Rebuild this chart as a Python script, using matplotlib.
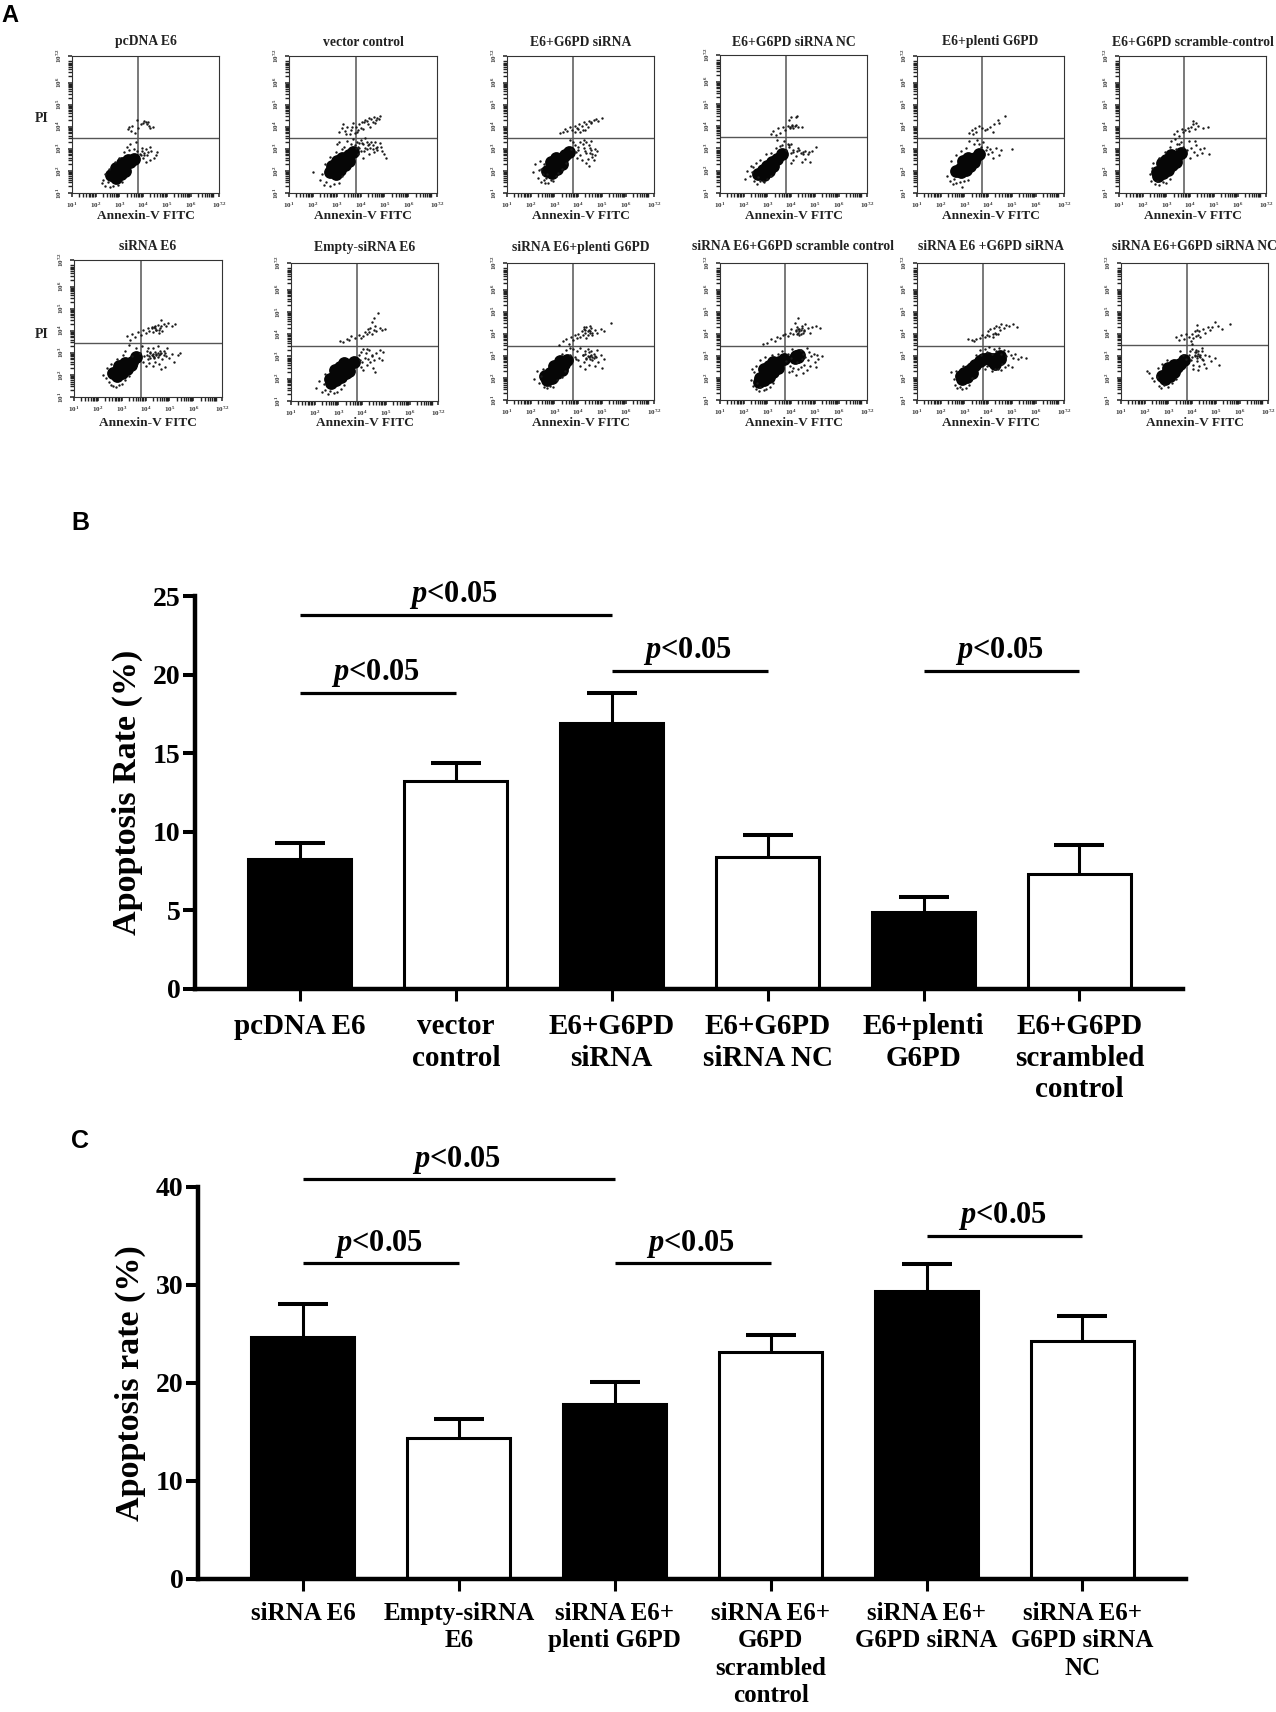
import numpy as np
import matplotlib
matplotlib.use("Agg")
import matplotlib.pyplot as plt

W, H = 1276, 1712
SERIF = "Liberation Serif"
SANS = "Liberation Sans"

plt.rcParams["font.family"] = [SERIF, "DejaVu Serif"]
plt.rcParams["font.weight"] = "bold"
plt.rcParams["axes.labelweight"] = "bold"
plt.rcParams["mathtext.fontset"] = "custom"
plt.rcParams["mathtext.rm"] = "Liberation Serif:bold"
plt.rcParams["mathtext.it"] = "Liberation Serif:italic:bold"
plt.rcParams["mathtext.bf"] = "Liberation Serif:bold"

# bar charts
labels_b = ["pcDNA E6", "vector\ncontrol", "E6+G6PD\nsiRNA", "E6+G6PD\nsiRNA NC", "E6+plenti\nG6PD",
            "E6+G6PD\nscrambled\ncontrol"]
means_b = [8.3, 13.2, 16.9, 8.4, 4.9, 7.3]
tops_b = [9.3, 14.4, 18.85, 9.8, 5.85, 9.15]
sig_b_start = [0, 0, 2, 4]
sig_b_end = [2, 1, 3, 5]
sig_b_y = [23.8, 18.85, 20.25, 20.25]

labels_c = ["siRNA E6", "Empty-siRNA\nE6", "siRNA E6+\nplenti G6PD", "siRNA E6+\nG6PD\nscrambled\ncontrol",
            "siRNA E6+\nG6PD siRNA", "siRNA E6+\nG6PD siRNA\nNC"]
means_c = [24.7, 14.4, 17.9, 23.2, 29.4, 24.3]
tops_c = [28.1, 16.3, 20.1, 24.9, 32.1, 26.8]
sig_c_start = [0, 0, 2, 4]
sig_c_end = [2, 1, 3, 5]
sig_c_y = [40.8, 32.2, 32.2, 35.0]

# flow panels, all in log10 units: core = the solid black mass, dots = the single events
p1_core_x = [2.65, 2.85, 3.05, 3.25, 3.45, 3.6, 2.85, 3.05, 3.25, 2.85, 3.1, 3.35]
p1_core_y = [1.8, 1.95, 2.1, 2.25, 2.4, 2.55, 1.7, 1.85, 2.0, 2.15, 2.35, 2.5]
p1_dots_x = [3.35, 3.4, 3.5, 3.55, 3.65, 3.75, 3.8, 3.9, 4.0, 4.1, 4.15, 4.2, 4.25, 4.3, 4.4, 4.05,
             3.3, 3.45, 3.6, 3.7, 3.75, 3.9, 3.95, 4.0, 4.05, 4.1, 4.15, 4.2, 4.3, 4.35, 4.45, 4.55, 4.6, 4.3, 4.1,
             2.25, 2.3, 2.4, 2.5, 2.6, 2.75, 2.95, 3.1, 2.4, 2.55, 2.8, 3.0, 3.2, 3.4, 3.85, 4.05, 3.95]
p1_dots_y = [3.9, 4.0, 3.8, 4.05, 3.7, 4.3, 3.95, 4.1, 4.15, 4.2, 4.1, 4.2, 4.05, 3.95, 4.0, 4.25,
             3.1, 3.2, 3.0, 3.3, 2.9, 2.7, 3.05, 2.6, 2.8, 3.0, 2.7, 2.85, 2.5, 2.9, 2.6, 2.7, 2.85, 3.1, 2.4,
             1.45, 1.6, 1.3, 1.5, 1.25, 1.3, 1.35, 1.5, 1.85, 2.1, 2.4, 2.6, 2.85, 2.95, 2.75, 2.7, 2.9]

p2_core_x = [2.7, 2.9, 3.1, 3.3, 3.5, 3.7, 2.95, 3.15, 3.35, 3.5, 2.8, 3.0, 3.2]
p2_core_y = [1.95, 2.15, 2.35, 2.5, 2.7, 2.85, 1.85, 2.05, 2.25, 2.45, 2.2, 2.45, 2.6]
p2_dots_x = [3.1, 3.2, 3.25, 3.35, 3.45, 3.55, 3.6, 3.7, 3.8, 3.85, 3.95, 4.05, 4.1, 4.2, 4.3, 4.35, 4.5, 4.55, 4.65,
             4.75, 4.8, 4.4, 3.0, 3.1, 3.3, 3.45, 3.6, 3.7, 3.85, 3.95, 4.0, 4.1, 4.15, 4.2, 4.3, 4.35, 4.45, 4.5, 4.6,
             4.7, 4.8, 4.9, 5.0, 5.05, 4.55, 4.1, 3.9, 2.0, 2.3, 2.4, 2.45, 2.55, 2.7, 2.9, 3.1, 3.2, 2.5, 2.7, 2.95, 3.2,
             3.8, 4.0, 4.25, 4.4, 4.65, 3.75, 3.95, 4.25,
             3.4, 3.65, 3.75, 3.9, 4.0, 4.15, 4.25, 4.45, 4.6, 4.7, 3.9, 4.05, 4.2, 4.35, 4.5, 4.7, 4.85]
p2_dots_y = [3.75, 3.95, 4.1, 3.8, 4.0, 3.65, 3.85, 4.15, 4.0, 3.75, 4.1, 4.2, 3.9, 4.3, 4.1, 4.4, 4.2, 4.45, 4.3,
             4.35, 4.5, 4.0, 3.2, 3.3, 3.1, 3.35, 3.2, 3.45, 3.3, 3.05, 3.4, 3.2, 2.9, 3.5, 3.15, 2.75, 3.3, 3.0, 3.3,
             3.1, 3.25, 2.9, 2.75, 2.6, 2.85, 2.6, 2.75, 1.95, 1.6, 1.85, 1.35, 1.5, 1.3, 1.4, 1.45, 1.75, 2.3, 2.65, 2.85, 3.0,
             3.05, 2.9, 3.0, 3.05, 3.05, 3.15, 3.25, 3.3,
             3.65, 4.0, 3.7, 3.85, 3.95, 4.2, 4.25, 4.35, 4.15, 4.4, 3.1, 3.25, 3.05, 3.2, 3.15, 2.95, 3.1]

p3_core_x = [2.7, 2.85, 3.0, 3.15, 3.3, 3.45, 3.6, 2.9, 3.1, 3.3, 2.85, 3.05]
p3_core_y = [2.0, 2.15, 2.3, 2.45, 2.55, 2.7, 2.85, 1.9, 2.1, 2.3, 2.4, 2.6]
p3_dots_x = [3.25, 3.35, 3.45, 3.55, 3.65, 3.75, 3.85, 3.95, 4.05, 4.15, 4.25, 4.35, 4.45, 4.55, 4.65, 4.75, 4.85, 5.0,
             4.3, 4.1, 3.7, 3.8, 3.9, 4.0, 4.1, 4.2, 4.3, 4.4, 4.5, 4.6, 4.7, 4.8, 4.55, 4.35, 4.15, 4.45, 4.25, 3.95, 4.65,
             2.1, 2.2, 2.3, 2.35, 2.45, 2.5, 2.6, 2.65, 2.75, 2.85, 2.95, 3.05, 2.4, 2.55, 3.15, 3.3, 3.5, 3.65, 4.5, 4.6, 4.35, 4.7,
             3.85, 4.0, 4.2, 4.4, 4.55, 3.85, 4.0, 4.1, 4.25, 4.35, 4.45, 4.55, 2.55, 2.7, 2.45]
p3_dots_y = [3.7, 3.75, 3.9, 3.8, 4.0, 3.85, 4.05, 3.95, 4.1, 4.05, 4.2, 4.1, 4.25, 4.15, 4.3, 4.35, 4.25, 4.4,
             3.85, 3.75, 3.0, 3.3, 2.85, 3.1, 2.7, 3.2, 2.9, 2.55, 3.05, 2.75, 3.0, 2.9, 3.35, 2.35, 2.5, 2.2, 3.4, 2.6, 2.5,
             1.95, 2.3, 1.7, 2.05, 1.5, 1.85, 1.45, 1.7, 1.45, 1.6, 1.55, 1.75, 2.45, 2.3, 1.9, 2.1, 2.35, 3.4, 2.8, 2.65, 3.3, 2.7,
             3.75, 3.9, 3.85, 4.0, 4.2, 3.15, 2.95, 3.3, 3.05, 2.8, 3.15, 2.95, 1.6, 1.85, 2.1]

p4_core_x = [2.6, 2.8, 3.0, 3.2, 3.4, 3.6, 2.85, 3.05, 3.25]
p4_core_y = [1.85, 2.05, 2.2, 2.4, 2.55, 2.75, 1.8, 2.0, 2.2]
p4_dots_x = [3.15, 3.25, 3.35, 3.45, 3.55, 3.65, 3.75, 3.85, 3.95, 4.0, 4.05, 4.1, 4.2, 4.3, 4.45, 3.9, 4.2, 4.25,
             3.4, 3.55, 3.7, 3.8, 3.9, 4.0, 4.1, 4.2, 4.3, 4.4, 4.5, 4.6, 4.7, 4.8, 4.9, 5.05, 4.45, 4.1, 4.0, 3.85,
             2.05, 2.15, 2.25, 2.35, 2.45, 2.55, 2.7, 2.85, 3.0, 3.15, 2.3, 2.5, 2.7, 2.95, 3.15, 3.35, 3.6,
             3.9, 4.0, 4.1, 4.25, 4.35, 4.5, 4.6, 4.75, 3.95, 4.05, 4.15, 2.4, 2.6, 2.8]
p4_dots_y = [3.65, 3.8, 3.6, 3.9, 3.7, 3.95, 3.85, 4.0, 3.95, 4.4, 4.0, 3.9, 4.05, 3.95, 3.95, 4.3, 4.4, 4.45,
             3.4, 3.1, 3.35, 2.95, 3.15, 2.8, 2.95, 2.65, 3.0, 2.8, 2.85, 2.55, 2.75, 2.4, 2.9, 3.05, 2.4, 2.5, 2.35, 3.2,
             1.65, 2.0, 1.75, 1.95, 1.55, 1.4, 1.55, 1.5, 1.65, 1.75, 2.2, 2.35, 2.5, 2.75, 2.8, 3.0, 3.15,
             3.05, 3.2, 2.85, 2.9, 2.95, 2.75, 2.9, 2.85, 3.9, 4.05, 4.0, 2.15, 1.7, 1.55]

p5_core_x = [2.65, 2.85, 3.05, 3.25, 3.45, 3.6, 2.85, 3.05, 3.25, 3.4, 2.95, 3.15]
p5_core_y = [2.0, 2.15, 2.3, 2.45, 2.6, 2.75, 1.95, 2.05, 2.2, 2.4, 2.45, 2.6]
p5_dots_x = [3.2, 3.3, 3.35, 3.45, 3.6, 3.75, 3.85, 3.95, 4.1, 4.25, 4.4, 4.45, 4.7, 3.5, 4.2,
             3.2, 3.4, 3.55, 3.7, 3.8, 3.9, 4.0, 4.1, 4.2, 4.35, 4.45, 4.55, 5.0, 3.95, 4.15, 3.6,
             2.25, 2.4, 2.5, 2.55, 2.65, 2.8, 2.9, 3.0, 3.15, 2.45, 2.65, 2.85, 3.05]
p5_dots_y = [3.7, 3.85, 3.65, 3.95, 4.05, 3.95, 3.85, 3.9, 4.0, 4.1, 4.3, 4.15, 4.5, 3.75, 3.75,
             3.35, 3.2, 3.4, 3.1, 3.3, 2.95, 2.75, 3.0, 2.6, 3.05, 2.7, 2.95, 3.0, 3.1, 2.85, 3.2,
             1.75, 1.55, 1.4, 1.65, 1.45, 1.5, 1.25, 1.55, 1.6, 2.45, 2.7, 2.9, 3.05]

p6_core_x = [2.6, 2.8, 3.0, 3.2, 3.4, 3.6, 2.65, 2.85, 3.05, 3.25, 2.8, 3.0, 3.2, 3.4]
p6_core_y = [1.95, 2.1, 2.25, 2.45, 2.6, 2.8, 1.75, 1.9, 2.05, 2.25, 2.35, 2.5, 2.7, 2.4]
p6_dots_x = [3.3, 3.45, 3.55, 3.65, 3.8, 3.9, 3.95, 4.05, 4.1, 4.2, 4.25, 4.35, 4.55, 4.75, 4.1, 3.7,
             3.2, 3.35, 3.45, 3.6, 3.7, 3.85, 3.95, 4.05, 4.15, 4.25, 4.3, 4.4, 4.5, 4.6, 4.8, 4.2, 4.0,
             2.3, 2.35, 2.4, 2.5, 2.6, 2.7, 2.85, 3.0, 3.15, 2.45, 2.7, 2.95, 3.15, 3.4, 3.55]
p6_dots_y = [3.65, 3.8, 3.6, 3.9, 3.85, 3.95, 3.8, 4.0, 4.1, 3.9, 4.15, 4.05, 3.95, 4.0, 4.25, 3.75,
             3.35, 3.45, 3.2, 3.3, 3.1, 2.95, 3.35, 3.05, 2.85, 3.15, 2.7, 3.0, 2.8, 3.05, 2.75, 3.35, 2.6,
             1.85, 1.55, 2.15, 1.4, 1.55, 1.35, 1.5, 1.45, 1.65, 2.35, 2.6, 2.85, 3.1, 3.0, 3.2]

p7_core_x = [2.65, 2.85, 3.05, 3.25, 3.45, 3.6, 2.8, 3.0, 3.2, 2.9, 3.15, 3.4]
p7_core_y = [2.1, 2.2, 2.3, 2.45, 2.6, 2.8, 1.95, 2.1, 2.25, 2.4, 2.55, 2.45]
p7_dots_x = [3.2, 3.35, 3.45, 3.55, 3.7, 3.8, 3.9, 4.0, 4.1, 4.15, 4.25, 4.3, 4.4, 4.45, 4.5, 4.6, 4.65, 4.75, 4.85, 4.95, 5.1, 5.25, 4.55, 4.7,
             3.15, 3.3, 3.45, 3.6, 3.75, 3.85, 3.95, 4.05, 4.1, 4.2, 4.3, 4.3, 4.4, 4.4, 4.5, 4.5, 4.6, 4.7, 4.75, 4.85, 4.9, 5.0, 5.1, 5.2, 5.35, 5.45,
             4.0, 4.15, 4.3, 4.55, 4.8, 4.65, 4.25, 4.45, 3.9, 4.1, 4.35, 4.6,
             2.2, 2.35, 2.45, 2.55, 2.65, 2.75, 2.9, 3.0, 3.15, 3.3, 2.4, 2.55, 2.8, 3.05,
             4.05, 4.15, 4.2, 4.3, 4.35, 4.45, 4.5, 4.55, 4.65, 4.75, 4.25, 4.4, 4.55, 4.35, 4.45, 4.65, 4.8, 4.2]
p7_dots_y = [3.75, 3.6, 3.85, 3.7, 3.95, 3.8, 4.05, 3.9, 4.1, 4.0, 4.15, 3.95, 4.2, 4.05, 4.25, 4.1, 4.5, 4.3, 4.2, 4.35, 4.2, 4.3, 3.9, 4.0,
             3.1, 3.35, 2.85, 3.2, 3.0, 3.3, 2.85, 3.1, 2.7, 3.0, 3.2, 2.85, 2.6, 3.05, 2.8, 3.3, 2.95, 2.7, 3.1, 2.85, 3.2, 2.75, 2.95, 2.6, 2.9, 3.0,
             2.4, 2.55, 2.4, 2.5, 2.35, 2.25, 2.9, 2.95, 2.6, 3.2, 2.75, 3.1,
             2.0, 1.85, 1.7, 1.55, 1.5, 1.45, 1.55, 1.6, 1.75, 1.95, 2.3, 2.5, 2.7, 2.9,
             2.9, 2.85, 3.05, 2.95, 2.8, 2.9, 3.0, 2.9, 3.0, 2.9, 4.1, 4.1, 4.05, 4.15, 4.05, 4.2, 3.0, 2.75]

p8_core_x = [2.65, 2.85, 3.05, 3.25, 3.45, 3.65, 2.7, 2.9, 3.1, 3.3, 2.85, 3.05, 3.25, 3.45]
p8_core_y = [2.0, 2.15, 2.3, 2.45, 2.6, 2.75, 1.8, 1.95, 2.1, 2.25, 2.4, 2.55, 2.7, 2.35]
p8_dots_x = [3.05, 3.2, 3.35, 3.45, 3.55, 3.7, 3.85, 3.95, 4.05, 4.1, 4.2, 4.25, 4.3, 4.35, 4.4, 4.5, 4.55, 4.6, 4.75, 4.85, 4.95, 4.5, 4.4, 4.65,
             3.85, 3.9, 3.95, 4.0, 4.05, 4.1, 4.15, 4.2, 4.25, 4.3, 4.35, 4.4, 4.45, 4.5, 4.6, 4.7, 4.75, 4.85, 4.9, 4.55, 4.2, 4.05, 3.95, 4.4,
             2.05, 2.2, 2.3, 2.4, 2.45, 2.55, 2.65, 2.8, 2.95, 3.1, 3.25, 2.45]
p8_dots_y = [3.7, 3.65, 3.8, 3.75, 3.9, 3.85, 3.95, 3.85, 3.9, 4.1, 4.0, 4.25, 4.1, 4.3, 4.0, 4.2, 4.35, 4.15, 4.3, 4.2, 4.25, 4.75, 4.55, 4.95,
             3.05, 2.85, 3.2, 2.75, 3.35, 2.95, 3.15, 2.6, 2.9, 3.3, 2.75, 3.05, 2.5, 2.85, 3.15, 2.95, 3.3, 2.85, 3.2, 2.3, 3.35, 2.4, 2.55, 3.0,
             1.6, 1.9, 1.4, 1.75, 1.5, 1.3, 1.45, 1.35, 1.4, 1.55, 1.7, 2.2]

p9_core_x = [2.6, 2.8, 3.0, 3.2, 3.4, 3.55, 2.7, 2.9, 3.1, 3.3, 3.0, 3.25]
p9_core_y = [2.1, 2.2, 2.35, 2.5, 2.65, 2.8, 1.9, 2.0, 2.2, 2.35, 2.55, 2.75]
p9_dots_x = [3.2, 3.35, 3.5, 3.6, 3.7, 3.8, 3.85, 3.95, 4.0, 4.1, 4.15, 4.2, 4.25, 4.3, 4.35, 4.4, 4.45, 4.5, 4.55, 4.6, 4.7, 4.8, 4.95, 5.1, 5.4, 4.25, 4.35, 4.5,
             3.65, 3.8, 3.85, 3.95, 4.0, 4.1, 4.2, 4.25, 4.3, 4.35, 4.4, 4.45, 4.5, 4.55, 4.6, 4.65, 4.7, 4.75, 4.8, 4.85, 4.95, 5.0, 5.1, 4.1, 4.3, 4.5, 3.9, 4.65,
             2.15, 2.25, 2.35, 2.45, 2.55, 2.7, 2.8, 2.95, 3.1, 3.3, 3.45, 2.5, 3.3, 3.5, 3.65,
             4.2, 4.3, 4.4, 4.45, 4.55, 4.6, 4.3, 4.4, 4.5, 4.6, 4.7, 4.35, 4.45]
p9_dots_y = [3.5, 3.65, 3.75, 3.55, 3.85, 3.7, 3.95, 3.8, 4.0, 3.85, 4.1, 3.95, 4.2, 4.05, 4.3, 3.95, 4.15, 4.05, 4.25, 3.95, 4.15, 4.05, 4.2, 4.1, 4.5, 4.3, 3.8, 4.35,
             3.05, 3.3, 2.95, 3.2, 2.8, 3.35, 3.05, 2.7, 3.2, 2.9, 3.3, 2.6, 3.0, 3.2, 2.8, 3.1, 2.55, 2.95, 3.25, 2.7, 3.05, 2.45, 2.85, 2.55, 2.4, 2.85, 2.85, 2.9,
             1.95, 2.3, 1.75, 2.1, 1.6, 1.55, 1.65, 1.6, 1.9, 2.05, 2.3, 2.4, 3.1, 3.25, 3.35,
             3.05, 3.1, 3.0, 3.15, 3.05, 2.95, 4.15, 4.1, 4.1, 4.05, 3.0, 2.85, 2.95]

p10_core_x = [2.7, 2.9, 3.1, 3.3, 3.5, 3.7, 2.65, 2.85, 3.05, 3.25, 2.85, 3.05, 3.25, 3.45, 4.2, 4.3, 4.15, 4.35]
p10_core_y = [2.0, 2.15, 2.3, 2.5, 2.7, 2.85, 1.8, 1.9, 2.05, 2.25, 2.4, 2.55, 2.7, 2.45, 3.0, 2.95, 2.9, 3.05]
p10_dots_x = [2.8, 3.0, 3.15, 3.3, 3.4, 3.55, 3.65, 3.75, 3.85, 3.95, 4.0, 4.1, 4.2, 4.25, 4.3, 4.35, 4.4, 4.45, 4.55, 4.6, 4.7, 4.8, 4.9, 5.05, 5.2, 4.3, 4.15,
              3.8, 3.85, 3.95, 4.0, 4.05, 4.1, 4.25, 4.4, 4.45, 4.5, 4.55, 4.6, 4.65, 4.7, 4.75, 4.8, 4.85, 4.95, 5.0, 5.05, 5.1, 5.15, 5.3, 4.05, 4.2, 4.3, 4.5, 4.65, 3.9, 4.4,
              2.3, 2.4, 2.45, 2.5, 2.55, 2.65, 2.7, 2.85, 2.95, 3.1, 3.25, 2.35, 2.5, 2.7, 2.9, 3.2, 3.45, 3.6,
              4.2, 4.3, 4.35, 4.4, 4.5, 4.25, 4.35, 4.45, 4.55]
p10_dots_y = [3.55, 3.6, 3.75, 3.65, 3.85, 3.8, 3.95, 4.0, 3.9, 4.05, 4.2, 4.0, 4.1, 4.3, 4.05, 4.2, 4.0, 4.35, 4.15, 4.45, 4.25, 4.05, 4.3, 4.35, 4.25, 4.7, 4.5,
              2.75, 3.1, 2.55, 2.9, 3.3, 2.45, 2.7, 3.25, 2.85, 3.1, 2.6, 2.95, 3.35, 2.8, 3.15, 2.55, 3.0, 3.1, 2.7, 2.5, 3.05, 2.85, 3.0, 2.3, 2.15, 2.4, 2.2, 2.35, 2.25, 2.5,
              1.9, 1.65, 2.25, 1.5, 1.75, 1.4, 1.6, 1.45, 1.5, 1.6, 1.75, 2.4, 2.55, 2.8, 2.95, 3.05, 3.1, 3.2,
              4.15, 4.2, 4.1, 4.15, 4.05, 4.0, 3.95, 4.25, 4.1]

p11_core_x = [2.85, 3.0, 3.15, 3.3, 3.45, 3.65, 2.9, 3.1, 3.3, 3.8, 4.0, 4.2, 4.35, 4.5, 4.3, 4.15, 4.5]
p11_core_y = [2.1, 2.2, 2.3, 2.45, 2.6, 2.75, 1.95, 2.05, 2.2, 2.85, 2.9, 2.85, 2.85, 2.85, 2.65, 2.75, 3.0]
p11_dots_x = [3.15, 3.3, 3.4, 3.5, 3.65, 3.75, 3.85, 3.95, 4.0, 4.05, 4.1, 4.2, 4.25, 4.3, 4.35, 4.4, 4.45, 4.5, 4.55, 4.65, 4.75, 4.9, 5.05, 5.2, 4.2, 4.35,
              3.7, 3.85, 3.95, 4.05, 4.15, 4.25, 4.35, 4.45, 4.55, 4.65, 4.75, 4.85, 4.95, 5.05, 5.15, 5.25, 5.4, 5.6, 4.4, 4.55, 4.7, 4.15, 4.3, 4.85, 5.0, 3.85, 3.95, 4.6,
              2.45, 2.55, 2.6, 2.7, 2.8, 2.9, 3.05, 3.2, 2.65, 3.3, 3.5, 3.65, 2.95]
p11_dots_y = [3.75, 3.7, 3.65, 3.75, 3.8, 3.95, 3.85, 3.95, 4.1, 3.9, 4.2, 4.0, 4.25, 4.05, 4.35, 4.0, 4.3, 4.15, 4.45, 4.25, 4.4, 4.35, 4.45, 4.3, 3.85, 4.0,
              3.05, 3.3, 3.15, 3.4, 3.1, 3.3, 3.2, 3.35, 3.1, 3.25, 3.0, 3.2, 3.05, 2.9, 3.1, 2.85, 2.95, 2.9, 2.4, 2.35, 2.5, 2.3, 2.4, 2.6, 2.5, 2.4, 2.55, 2.65,
              2.25, 1.95, 1.7, 1.55, 1.6, 1.5, 1.55, 1.7, 2.3, 2.0, 3.05, 3.25, 2.55]

p12_core_x = [2.75, 2.95, 3.15, 3.35, 3.5, 3.65, 2.85, 3.05, 3.25, 3.0, 3.25]
p12_core_y = [2.1, 2.2, 2.35, 2.5, 2.65, 2.8, 1.95, 2.1, 2.25, 2.45, 2.6]
p12_dots_x = [3.3, 3.45, 3.55, 3.65, 3.75, 3.85, 3.95, 4.0, 4.05, 4.1, 4.15, 4.2, 4.25, 4.3, 4.35, 4.45, 4.55, 4.65, 4.75, 4.85, 4.95, 5.1, 5.25, 5.6, 4.0, 4.2,
              3.85, 3.9, 3.95, 4.0, 4.05, 4.1, 4.15, 4.2, 4.25, 4.3, 4.35, 4.4, 4.45, 4.5, 4.55, 4.6, 4.7, 4.8, 4.95, 5.15, 4.05, 4.25, 4.4, 3.75, 3.6, 3.5,
              2.1, 2.2, 2.3, 2.4, 2.5, 2.6, 2.7, 2.8, 3.0, 3.15, 3.3, 2.55, 2.75, 2.95,
              4.1, 4.2, 4.3, 4.4, 4.15, 4.25, 4.35, 4.0, 4.1, 4.2]
p12_dots_y = [3.85, 3.7, 3.95, 3.75, 4.0, 3.85, 3.65, 4.0, 3.8, 4.1, 3.9, 4.15, 3.95, 4.1, 3.85, 4.2, 4.05, 4.3, 4.15, 4.3, 4.55, 4.35, 4.2, 4.45, 3.55, 4.4,
              3.05, 3.2, 2.8, 3.3, 2.6, 3.0, 3.25, 2.75, 3.1, 2.55, 2.95, 3.2, 2.8, 2.65, 3.05, 2.45, 3.0, 2.75, 2.9, 2.6, 2.4, 2.35, 3.35, 2.85, 3.05, 3.2,
              2.3, 2.2, 2.0, 1.85, 2.05, 1.65, 1.55, 1.7, 1.6, 1.75, 1.95, 2.45, 2.65, 2.8,
              3.05, 2.9, 3.0, 2.85, 3.15, 3.2, 3.05, 2.95, 3.15, 3.0]

flow_titles = ["pcDNA E6", "vector control", "E6+G6PD siRNA", "E6+G6PD siRNA NC", "E6+plenti G6PD",
               "E6+G6PD scramble-control", "siRNA E6", "Empty-siRNA E6", "siRNA E6+plenti G6PD",
               "siRNA E6+G6PD scramble control", "siRNA E6 +G6PD siRNA", "siRNA E6+G6PD siRNA NC"]
quad_x = [3.8, 3.8, 3.8, 3.8, 3.75, 3.75, 3.8, 3.8, 3.8, 3.76, 3.8, 3.79]
quad_y = [3.5, 3.5, 3.5, 3.5, 3.5, 3.5, 3.46, 3.47, 3.46, 3.46, 3.46, 3.47]
flow_tick_exps = [1, 2, 3, 4, 5, 6, 7.2]
flow_tick_names = ["1", "2", "3", "4", "5", "6", "7.2"]

flow_core_x = [p1_core_x, p2_core_x, p3_core_x, p4_core_x, p5_core_x, p6_core_x,
               p7_core_x, p8_core_x, p9_core_x, p10_core_x, p11_core_x, p12_core_x]
flow_core_y = [p1_core_y, p2_core_y, p3_core_y, p4_core_y, p5_core_y, p6_core_y,
               p7_core_y, p8_core_y, p9_core_y, p10_core_y, p11_core_y, p12_core_y]
flow_dots_x = [p1_dots_x, p2_dots_x, p3_dots_x, p4_dots_x, p5_dots_x, p6_dots_x,
               p7_dots_x, p8_dots_x, p9_dots_x, p10_dots_x, p11_dots_x, p12_dots_x]
flow_dots_y = [p1_dots_y, p2_dots_y, p3_dots_y, p4_dots_y, p5_dots_y, p6_dots_y,
               p7_dots_y, p8_dots_y, p9_dots_y, p10_dots_y, p11_dots_y, p12_dots_y]

# box of each flow panel in pixels: left, right, top, bottom
flow_boxes = [(72, 219, 56, 193), (289, 437, 56, 193), (507, 654, 56, 193), (720, 867, 55, 193),
              (917, 1064, 56, 193), (1119, 1266, 56, 193), (74, 222, 260, 397), (291, 438, 263, 401),
              (507, 654, 263, 400), (720, 867, 263, 400), (917, 1064, 263, 400), (1121, 1268, 263, 400)]


def axes_px(fig, left, right, top, bottom):
    return fig.add_axes([left / W, 1 - bottom / H, (right - left) / W, (bottom - top) / H])


def draw_flow(fig, i):
    left, right, top, bottom = flow_boxes[i]
    ax = axes_px(fig, left, right, top, bottom)
    ax.set_xscale("log")
    ax.set_yscale("log")
    ax.set_xlim(10, 10 ** 7.2)
    ax.set_ylim(10, 10 ** 7.2)

    ax.scatter(10 ** np.array(flow_core_x[i]), 10 ** np.array(flow_core_y[i]), s=85, c="#060606", linewidths=0, zorder=3)
    ax.scatter(10 ** np.array(flow_dots_x[i]), 10 ** np.array(flow_dots_y[i]), s=3.0, c="#1a1a1a", linewidths=0, zorder=3)
    ax.axvline(10 ** quad_x[i], color="#555555", lw=1.1, zorder=2)
    ax.axhline(10 ** quad_y[i], color="#555555", lw=1.0, zorder=2)

    ticks = [10.0 ** e for e in flow_tick_exps]
    names = ["$\\mathrm{10^{%s}}$" % n for n in flow_tick_names]
    ax.set_xticks(ticks, names, fontsize=5, color="#333333")
    ax.set_yticks(ticks, names, fontsize=5, color="#333333", rotation=90, va="center")
    ax.xaxis.set_minor_locator(matplotlib.ticker.LogLocator(base=10, subs=np.arange(2, 10) / 1.0, numticks=12))
    ax.yaxis.set_minor_locator(matplotlib.ticker.LogLocator(base=10, subs=np.arange(2, 10) / 1.0, numticks=12))
    ax.xaxis.set_minor_formatter(matplotlib.ticker.NullFormatter())
    ax.yaxis.set_minor_formatter(matplotlib.ticker.NullFormatter())
    ax.tick_params(which="major", length=3, width=1.1, color="#222222", pad=2.5)
    ax.tick_params(which="minor", length=2.6, width=1.0, color="#222222")

    for s in ax.spines.values():
        s.set_linewidth(0.8)
        s.set_color("#333333")

    row_title, row_label = (42, 216) if i < 6 else (247, 423)
    fig.text((left + right) / 2 / W, 1 - row_label / H, "Annexin-V FITC", fontsize=9.6, color="#222222",
             ha="center", va="center")
    fig.text((left + right) / 2 / W, 1 - row_title / H, flow_titles[i], fontsize=9.8, color="#222222",
             ha="center", va="center")


def draw_bars(fig, box, means, tops, labels, ymax, ystep, ylabel, sig_start, sig_end, sig_y, lab_size, lab_space, lab_pad):
    ax = axes_px(fig, *box)
    xs = np.arange(6)
    means = np.array(means)
    colors = ["black", "white"] * 3

    _, caps, _ = ax.errorbar(xs, means, yerr=[np.zeros(6), np.array(tops) - means], fmt="none", ecolor="black",
                             elinewidth=2.2, capsize=18, capthick=2.9, zorder=1)
    caps[0].set_visible(False)
    ax.bar(xs, means, width=0.66, color=colors, edgecolor="black", linewidth=2.2, zorder=2)

    ax.set_xlim(-0.673, 5.664)
    ax.set_ylim(0, ymax)
    ax.set_yticks(np.arange(0, ymax + 1, ystep))
    ax.set_xticks(xs, labels, fontsize=lab_size, linespacing=lab_space)
    ax.tick_params(axis="y", length=8.5, width=2.9, labelsize=20, pad=2)
    ax.tick_params(axis="x", length=8.5, width=2.2, pad=lab_pad)
    for name in ["top", "right"]:
        ax.spines[name].set_visible(False)
    for name in ["left", "bottom"]:
        ax.spines[name].set_linewidth(3.2)
    ax.set_ylabel(ylabel, fontsize=24.5, labelpad=7)

    for a, b, y in zip(sig_start, sig_end, sig_y):
        ax.plot([a, b], [y, y], color="black", lw=2.3, clip_on=False, solid_capstyle="butt")
        ax.annotate(r"$\mathit{p}$<0.05", ((a + b) / 2, y), xytext=(-1.5, 9), textcoords="offset points",
                    ha="center", va="baseline", fontsize=22, annotation_clip=False)


fig = plt.figure(figsize=(W / 100, H / 100), dpi=100, facecolor="white")

for i in range(12):
    draw_flow(fig, i)

fig.text(42 / W, 1 - 119 / H, "PI", fontsize=10, color="#222222", ha="center", va="center")
fig.text(42 / W, 1 - 335 / H, "PI", fontsize=10, color="#222222", ha="center", va="center")

draw_bars(fig, (195, 1183, 596, 989), means_b, tops_b, labels_b, 25, 5, "Apoptosis Rate (%)",
          sig_b_start, sig_b_end, sig_b_y, 21, 1.2, 9)
draw_bars(fig, (198, 1186, 1187, 1579), means_c, tops_c, labels_c, 40, 10, "Apoptosis rate (%)",
          sig_c_start, sig_c_end, sig_c_y, 18, 1.25, 8)

for letter, x, y, size in [("A", 10, 16, 17), ("B", 80, 523, 18), ("C", 80, 1141, 18)]:
    fig.text(x / W, 1 - y / H, letter, fontsize=size, family=[SANS, "DejaVu Sans"], ha="center", va="center")

fig.savefig("out.png", dpi=100, facecolor="white")
